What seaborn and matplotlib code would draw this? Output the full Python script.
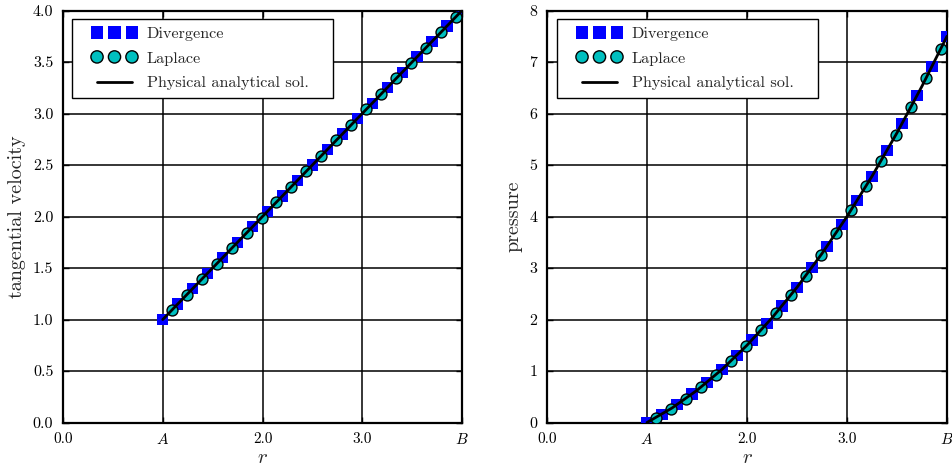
import matplotlib
matplotlib.use("Agg")
import matplotlib.pyplot as plt
from matplotlib.collections import PathCollection
from matplotlib.lines import Line2D
from matplotlib.legend_handler import HandlerPathCollection, HandlerLine2D
import seaborn as sns
import pandas as pd

# ---- data ----
r_div = [1.00, 1.15, 1.30, 1.45, 1.60, 1.75, 1.90, 2.05, 2.20, 2.35, 2.50,
         2.65, 2.80, 2.95, 3.10, 3.25, 3.40, 3.55, 3.70, 3.85, 4.00]
v_div = [1.00, 1.15, 1.30, 1.45, 1.60, 1.75, 1.90, 2.05, 2.20, 2.35, 2.50,
         2.65, 2.80, 2.95, 3.10, 3.25, 3.40, 3.55, 3.70, 3.85, 4.00]
p_div = [0.000, 0.161, 0.345, 0.551, 0.780, 1.031, 1.305, 1.601, 1.920, 2.261,
         2.625, 3.011, 3.420, 3.851, 4.305, 4.781, 5.280, 5.801, 6.345, 6.911, 7.500]

r_lap = [1.09, 1.24, 1.39, 1.54, 1.69, 1.84, 1.99, 2.14, 2.29, 2.44,
         2.59, 2.74, 2.89, 3.04, 3.19, 3.34, 3.49, 3.64, 3.79, 3.94]
v_lap = [1.09, 1.24, 1.39, 1.54, 1.69, 1.84, 1.99, 2.14, 2.29, 2.44,
         2.59, 2.74, 2.89, 3.04, 3.19, 3.34, 3.49, 3.64, 3.79, 3.94]
p_lap = [0.094, 0.269, 0.466, 0.686, 0.928, 1.193, 1.480, 1.790, 2.122, 2.477,
         2.854, 3.254, 3.676, 4.121, 4.588, 5.078, 5.590, 6.125, 6.682, 7.262]

r_ana = [1.00, 1.25, 1.50, 1.75, 2.00, 2.25, 2.50, 2.75, 3.00, 3.25, 3.50, 3.75, 4.00]
v_ana = [1.00, 1.25, 1.50, 1.75, 2.00, 2.25, 2.50, 2.75, 3.00, 3.25, 3.50, 3.75, 4.00]
p_ana = [0.000, 0.281, 0.625, 1.031, 1.500, 2.031, 2.625, 3.281, 4.000, 4.781,
         5.625, 6.531, 7.500]

x_ticks = [0.0, 1.0, 2.0, 3.0, 4.0]
x_ticklabels = ["0.0", "$A$", "2.0", "3.0", "$B$"]
v_ticks = [0.0, 0.5, 1.0, 1.5, 2.0, 2.5, 3.0, 3.5, 4.0]
v_ticklabels = ["0.0", "0.5", "1.0", "1.5", "2.0", "2.5", "3.0", "3.5", "4.0"]
p_ticks = [0, 1, 2, 3, 4, 5, 6, 7, 8]
p_ticklabels = ["0", "1", "2", "3", "4", "5", "6", "7", "8"]

labels = ["Divergence", "Laplace", "Physical analytical sol."]

sns.set_style("white")
plt.rcParams["font.family"] = ["serif"]
plt.rcParams["font.serif"] = ["cmr10", "DejaVu Serif"]
plt.rcParams["mathtext.fontset"] = "cm"
plt.rcParams["axes.formatter.use_mathtext"] = True
plt.rcParams["axes.unicode_minus"] = False

W, H = 952, 468
fig = plt.figure(figsize=(W / 100, H / 100), dpi=100)
ax1 = fig.add_axes([63 / W, 1 - 422.5 / H, 399 / W, 412 / H])
ax2 = fig.add_axes([547 / W, 1 - 422.5 / H, 400 / W, 412 / H])

LEG_FS = 11.7
XPAD = 1.09


def draw(ax, ydiv, ylap, yana, yticks, yticklabels, ylim, ylabel, leg_left_px):
    df_div = pd.DataFrame({"r": r_div, "y": ydiv})
    df_lap = pd.DataFrame({"r": r_lap, "y": ylap})
    df_ana = pd.DataFrame({"r": r_ana, "y": yana})
    sns.scatterplot(data=df_div, x="r", y="y", marker="s", s=66, color="#0000ff",
                    edgecolor="none", linewidth=0, label=labels[0], ax=ax, zorder=3)
    sns.scatterplot(data=df_lap, x="r", y="y", marker="o", s=62, color="#00bfbf",
                    edgecolor="black", linewidth=1.0, label=labels[1], ax=ax, zorder=4)
    sns.lineplot(data=df_ana, x="r", y="y", color="black", linewidth=2.0,
                 label=labels[2], ax=ax, zorder=5, sort=False)
    ax.set_xlim(0, 4)
    ax.set_ylim(*ylim)
    ax.set_xticks(x_ticks)
    ax.set_xticklabels(x_ticklabels, fontsize=11)
    ax.set_yticks(yticks)
    ax.set_yticklabels(yticklabels, fontsize=11.5)
    ax.set_xlabel("$r$", fontsize=15, labelpad=1)
    ax.set_ylabel(ylabel, fontsize=14.5, labelpad=5)
    ax.grid(True, color="black", linewidth=1.1, linestyle="-")
    ax.set_axisbelow(True)
    for sp in ax.spines.values():
        sp.set_visible(True)
        sp.set_color("black")
        sp.set_linewidth(1.6)
    ax.tick_params(direction="in", length=4, width=1, top=True, right=True,
                   bottom=True, left=True, pad=7, colors="black")
    pos = ax.get_position()
    ax_w_px = pos.width * W
    ax_h_px = pos.height * H
    ax_left_px = pos.x0 * W
    ax_top_px = (1 - pos.y1) * H
    x0 = (leg_left_px - ax_left_px) / ax_w_px
    wleg = 261 / ax_w_px
    ytop = 1 - (19.3 - ax_top_px) / ax_h_px
    hm = {PathCollection: HandlerPathCollection(marker_pad=0.0, xpad=XPAD,
                                                yoffsets=[0.5, 0.5, 0.5]),
          Line2D: HandlerLine2D(xpad=XPAD)}
    leg = ax.legend(loc="upper left", bbox_to_anchor=(x0, ytop, wleg, 0.0),
                    mode="expand", borderaxespad=0.0, scatterpoints=3,
                    markerscale=1.12,
                    fontsize=LEG_FS, frameon=True, fancybox=False,
                    edgecolor="black", framealpha=1.0,
                    handlelength=3.24, handletextpad=0.92,
                    borderpad=0.45, labelspacing=0.63, handler_map=hm)
    leg.get_frame().set_linewidth(1.0)


draw(ax1, v_div, v_lap, v_ana, v_ticks, v_ticklabels, (0, 4), "tangential velocity", 72)
draw(ax2, p_div, p_lap, p_ana, p_ticks, p_ticklabels, (0, 8), "pressure", 557)

fig.savefig("out.png", dpi=100)
